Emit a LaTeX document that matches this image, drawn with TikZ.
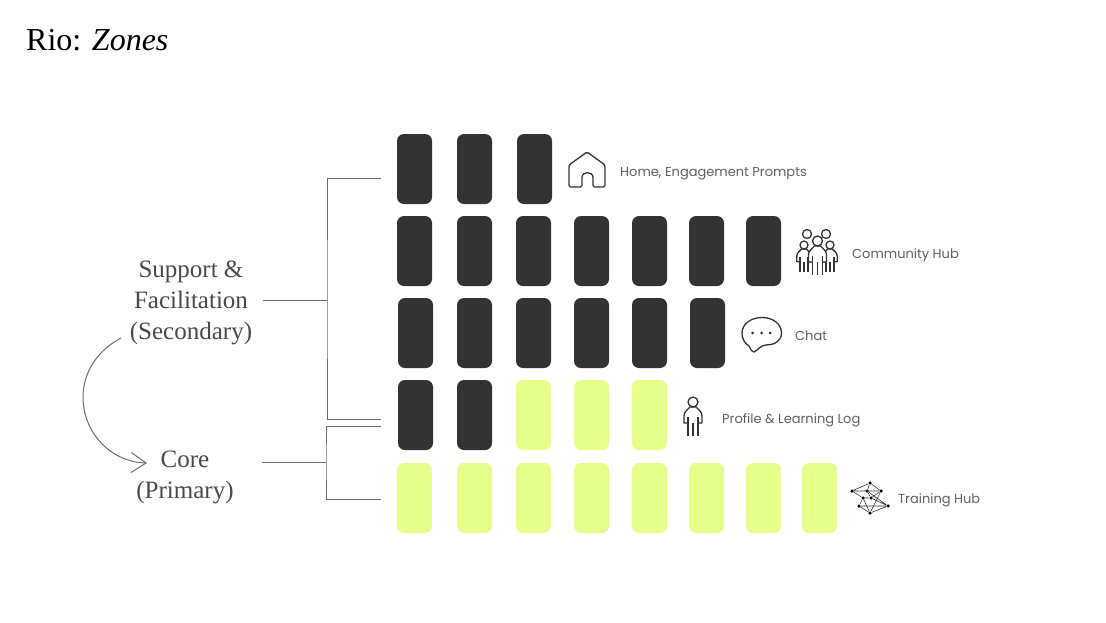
\documentclass[tikz,border=0pt]{standalone}
\usepackage{fontspec}
\setmainfont{Liberation Serif}
\newfontfamily\labelfont{Poppins}
\usepackage{xcolor}
\usetikzlibrary{arrows.meta, positioning}
\definecolor{phonedark}{HTML}{333333}
\definecolor{phonelime}{HTML}{E5FF8A}
\definecolor{zonetext}{HTML}{4A4A4A}
\definecolor{hubtext}{HTML}{606060}
\definecolor{linegrey}{HTML}{6E6E6E}
\tikzset{
    figure/.pic={
        \draw[icon, fill=white] (-5,21) -- (-9,21) -- (-9,14) .. controls (-9,9) and (-5,8) .. (-3,5) -- (3,5) .. controls (5,8) and (9,9) .. (9,14) -- (9,21) -- (5,21);
        \fill[white] (-5,21) rectangle (5,34);
        \draw[icon, fill=white] (0,0) circle (5);
        \draw[icon] (-5,15) -- (-5,34) (0,21) -- (0,34) (5,15) -- (5,34);
    },
}
\begin{document}
\begin{tikzpicture}[
    x=1pt, y=-1pt,
    node distance=12pt,
    phone/.style={rounded corners=7pt, minimum width=35pt, minimum height=70pt, inner sep=0pt, outer sep=0pt},
    dark/.style={phone, fill=phonedark},
    lime/.style={phone, fill=phonelime},
    zone/.style={font=\fontsize{25}{31}\selectfont, text=zonetext, align=center, inner sep=0pt},
    hub/.style={font=\labelfont\fontsize{13}{15}\selectfont, text=hubtext, anchor=west, inner sep=0pt},
    bracket/.style={draw=linegrey, line width=1pt},
    icon/.style={draw=phonedark, line width=1.3pt, line join=round},
    netdot/.style={circle, fill=black, minimum size=3.5pt, inner sep=0pt},
    netline/.style={draw=phonedark, line width=0.6pt},
]
\useasboundingbox (0,0) rectangle (1106,622);
\fill[white] (0,0) rectangle (1106,622);

\node[font=\fontsize{32}{38}\selectfont, anchor=base west, inner sep=0pt] (title) at (26,50) {Rio: \textit{Zones}};

% Row 1: Home
\node[dark] (home1) at (414.5,169) {};
\node[dark, right=25pt of home1] (home2) {};
\node[dark, right=25pt of home2] (home3) {};

% Row 2: Community Hub
\node[dark, below=of home1] (comm1) {};
\node[dark, right=25pt of comm1] (comm2) {};
\node[dark, right=24pt of comm2] (comm3) {};
\node[dark, right=23pt of comm3] (comm4) {};
\node[dark, right=23pt of comm4] (comm5) {};
\node[dark, right=22pt of comm5] (comm6) {};
\node[dark, right=22pt of comm6] (comm7) {};

% Row 3: Chat
\node[dark, below=of comm1, xshift=1pt] (chat1) {};
\node[dark, right=24pt of chat1] (chat2) {};
\node[dark, right=24pt of chat2] (chat3) {};
\node[dark, right=23pt of chat3] (chat4) {};
\node[dark, right=23pt of chat4] (chat5) {};
\node[dark, right=23pt of chat5] (chat6) {};

% Row 4: Profile
\node[dark, below=of chat1] (prof1) {};
\node[dark, right=24pt of prof1] (prof2) {};
\node[lime, right=24pt of prof2] (prof3) {};
\node[lime, right=23pt of prof3] (prof4) {};
\node[lime, right=23pt of prof4] (prof5) {};

% Row 5: Training Hub
\node[lime, below=13pt of prof1, xshift=-1pt] (train1) {};
\node[lime, right=25pt of train1] (train2) {};
\node[lime, right=24pt of train2] (train3) {};
\node[lime, right=23pt of train3] (train4) {};
\node[lime, right=23pt of train4] (train5) {};
\node[lime, right=22pt of train5] (train6) {};
\node[lime, right=22pt of train6] (train7) {};
\node[lime, right=21pt of train7] (train8) {};

% Row labels
\node[hub] (home-label) at (620,174) {Home, Engagement Prompts};
\node[hub] (comm-label) at (852,255) {Community Hub};
\node[hub] (chat-label) at (795,336) {Chat};
\node[hub] (prof-label) at (722,420) {Profile \& Learning Log};
\node[hub] (train-label) at (898,500) {Training Hub};

% Zone labels
\node[zone] (support) at (191,303) {Support \&\\Facilitation\\(Secondary)};
\node[zone] (core) at (185,477) {Core\\(Primary)};

% Brackets
\coordinate (sec-out) at (263,300);
\coordinate (sec-jct) at (327,300);
\coordinate (sec-top) at (381,178);
\coordinate (sec-bot) at (381,419);
\coordinate (pri-out) at (262,462);
\coordinate (pri-jct) at (326,462);
\coordinate (pri-top) at (381,426);
\coordinate (pri-bot) at (381,499);
\draw[bracket] (sec-out) -- (sec-jct);
\draw[bracket] (sec-top) -| (sec-jct) |- (sec-bot);
\draw[bracket] (pri-out) -- (pri-jct);
\draw[bracket] (pri-top) -| (pri-jct) |- (pri-bot);

% Secondary leads to primary
\coordinate (arc-start) at (121,338);
\coordinate (arc-end) at (147,463);
\draw[draw=linegrey, line width=1pt, -{Straight Barb[length=15pt,width=20pt]}] (arc-start) .. controls (98,350) and (83,372) .. (83,397) .. controls (83,432) and (110,462) .. (arc-end);

% House icon
\draw[icon, rounded corners=1.5pt] (569,187) -- (569,165) -- (587,152) -- (605,165) -- (605,187) -- (593,187) -- (593,179) .. controls (593,171) and (582,171) .. (582,179) -- (582,187) -- cycle;

% Community icon
\draw[icon] (807,234) circle (4.5);
\draw[icon] (826,234) circle (4.5);
\pic[scale=0.8] at (804,245) {figure};
\pic[scale=0.8] at (830,245) {figure};
\pic at (817.5,241) {figure};

% Chat icon
\draw[icon] (754,352) .. controls (752,352) and (751,350) .. (749,346) .. controls (744,343) and (742,338) .. (742,333) .. controls (742,324) and (751,317.5) .. (762,317.5) .. controls (773,317.5) and (781.5,324) .. (781.5,333) .. controls (781.5,342) and (773,345) .. (766,345) .. controls (761,345) and (758,350) .. (754,352) -- cycle;
\fill[phonedark] (752.7,333) circle (1.5) (761.7,333) circle (1.5) (770,333) circle (1.5);

% Profile icon
\pic at (693,402) {figure};

% Training icon
\node[netdot] (n1) at (852,491) {};
\node[netdot] (n2) at (870,483) {};
\node[netdot] (n3) at (881,491) {};
\node[netdot] (n4) at (867,491) {};
\node[netdot] (n5) at (871,498) {};
\node[netdot] (n6) at (863,498) {};
\node[netdot] (n7) at (859,506) {};
\node[netdot] (n8) at (888,506) {};
\node[netdot] (n9) at (870,513) {};
\draw[netline] (n1) -- (n2) -- (n3) -- (n1);
\draw[netline] (n1) -- (n6) -- (n7) -- (n9) -- (n8) -- (n7);
\draw[netline] (n2) -- (n4) -- (n5) -- (n3);
\draw[netline] (n4) -- (n8) (n5) -- (n6) -- (n9) (n3) -- (n9) (n5) -- (n8);

\end{tikzpicture}
\end{document}
